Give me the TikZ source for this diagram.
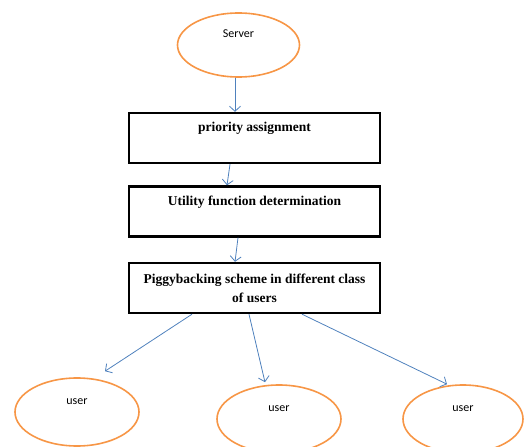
\documentclass[tikz,border=0pt]{standalone}
\usepackage{fontspec}
\setmainfont{Liberation Serif}
\newfontfamily\calibri{Carlito}
\usepackage{tikz}
\usetikzlibrary{arrows.meta,shapes.geometric,positioning}
\definecolor{ovalorange}{RGB}{247,150,70}
\definecolor{linkblue}{RGB}{79,129,189}

\begin{document}
\begin{tikzpicture}[x=1pt, y=-1pt,
  oval/.style={ellipse, draw=ovalorange, line width=1.6pt, inner sep=0pt,
    minimum width=124pt, minimum height=68pt,
    font=\calibri\fontsize{12}{14}\selectfont, text height=8pt, text depth=24pt},
  stage/.style={rectangle, draw=black, line width=2.4pt, inner sep=0pt,
    minimum width=251pt, minimum height=50pt,
    font=\bfseries\fontsize{13.5}{19}\selectfont},
  link/.style={-{Straight Barb[length=5pt, width=11pt]}, linkblue, line width=0.8pt}]
\useasboundingbox (0,0) rectangle (525,447);
% Server and processing stages
\node[oval, minimum width=122pt, minimum height=64pt] (server) at (238.5,45) {Server};
\node[stage, text height=9pt, text depth=22pt] (prio) at (254.5,138) {priority assignment};
\node[stage, text height=9pt, text depth=22pt] (util) at (254.5,211.5) {Utility function determination};
\node[stage, align=center] (piggy) at (254.5,288)
  {Piggybacking scheme in different class\\of users};
% User classes
\node[oval] (user1) at (77,412) {user};
\node[oval] (user2) at (279,419) {user};
\node[oval, minimum width=120pt] (user3) at (463,419) {user};
% Connectors
\draw[link] ([xshift=-3.5pt]server.south) -- ([xshift=-19.5pt]prio.north);
\draw[link] ([xshift=-24.5pt]prio.south) -- ([xshift=-27.5pt]util.north);
\draw[link] ([xshift=-16.5pt]util.south) -- ([xshift=-19.5pt]piggy.north);
\draw[link] ([xshift=-62.5pt]piggy.south) -- ([shift={(28,-6)}]user1.north);
\draw[link] ([xshift=-5.5pt]piggy.south) -- ([shift={(-14,-2)}]user2.north);
\draw[link] ([xshift=47.5pt]piggy.south) -- ([shift={(-16,0)}]user3.north);
\end{tikzpicture}
\end{document}
